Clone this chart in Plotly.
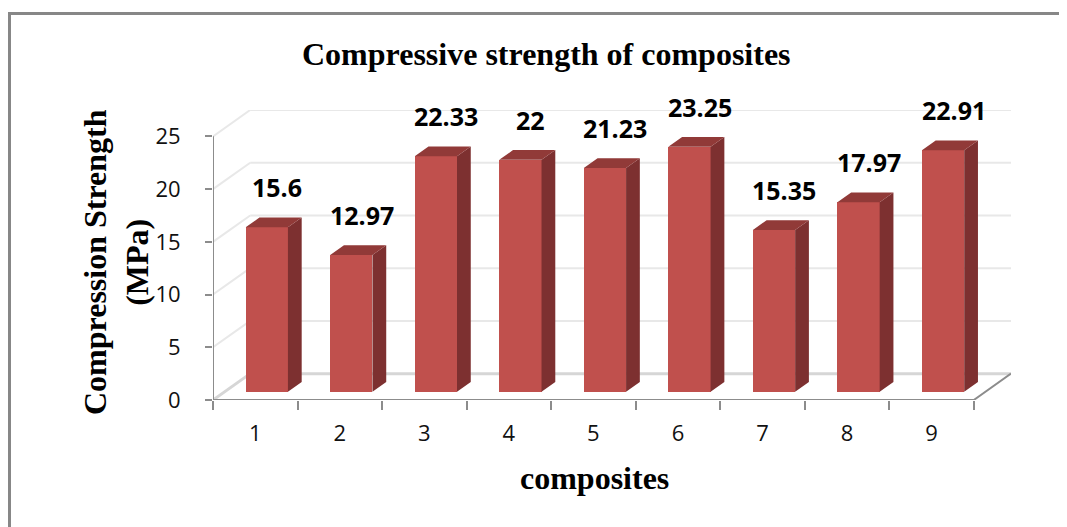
import plotly.graph_objects as go

# data
composites = [1, 2, 3, 4, 5, 6, 7, 8, 9]
strength = [15.6, 12.97, 22.33, 22, 21.23, 23.25, 15.35, 17.97, 22.91]
labels = ["15.6", "12.97", "22.33", "22", "21.23", "23.25", "15.35", "17.97", "22.91"]
y_ticks = [0, 5, 10, 15, 20, 25]

# fake 3D geometry (in axis units)
DX, DY = 0.44, 2.5        # full depth of the floor / walls
F0, DD = 0.31, 0.37       # where bars start in depth, and how deep they are
HALF = 0.25               # half bar width

OFF = 8                   # page body margin
W, H = 1067 - OFF, 527 - OFF
L, R, T, B = 213 - OFF, 56, 110 - OFF, 127
pw, ph = W - L - R, H - T - B


def px(x, y):
    # reference-screen pixel -> paper coords
    x, y = x - OFF, y - OFF
    return (x - L) / pw, (H - B - y) / ph


fig = go.Figure()

# back wall, side wall and floor, drawn below the bars
grid = dict(color="#e8e8e8", width=2)
for v in y_ticks:
    line = grid if v else dict(color="#d6d6d6", width=3)
    fig.add_shape(type="line", xref="x", yref="y", layer="below",
                  x0=0.5, y0=v, x1=0.5 + DX, y1=v + DY, line=line)
    fig.add_shape(type="line", xref="x", yref="y", layer="below",
                  x0=0.5 + DX, y0=v + DY, x1=9.5 + DX, y1=v + DY, line=line)

# front faces
xs = [c + F0 * DX for c in composites]
fig.add_trace(go.Bar(x=xs, y=strength, base=F0 * DY, width=2 * HALF,
                     marker=dict(color="#c0504d", line=dict(width=0)),
                     showlegend=False, hoverinfo="skip"))

# side and top faces
sx, sy, tx, ty = [], [], [], []
for x, v in zip(xs, strength):
    xl, xr = x - HALF, x + HALF
    b, t = F0 * DY, F0 * DY + v
    sx += [xr, xr + DD * DX, xr + DD * DX, xr, xr, None]
    sy += [b, b + DD * DY, t + DD * DY, t, b, None]
    tx += [xl, xr, xr + DD * DX, xl + DD * DX, xl, None]
    ty += [t, t, t + DD * DY, t + DD * DY, t, None]
fig.add_trace(go.Scatter(x=sx, y=sy, mode="lines", fill="toself", fillcolor="#7d3030",
                         line=dict(width=0, color="#7d3030"), hoverinfo="skip",
                         showlegend=False))
fig.add_trace(go.Scatter(x=tx, y=ty, mode="lines", fill="toself", fillcolor="#913a38",
                         line=dict(width=0, color="#913a38"), hoverinfo="skip",
                         showlegend=False))

# front axis lines
fig.add_trace(go.Scatter(x=[0.5, 0.5, None, 0.5, 9.5, 9.5 + DX],
                         y=[25, 0, None, 0, 0, DY], mode="lines",
                         line=dict(color="#8c8c8c", width=2),
                         hoverinfo="skip", showlegend=False, cliponaxis=False))

# value labels
for x, v, s in zip(composites, strength, labels):
    fig.add_annotation(x=x + 0.26, y=F0 * DY + v, text=s, showarrow=False,
                       yshift=40, xref="x", yref="y",
                       xanchor="center", yanchor="middle",
                       font=dict(family="Open Sans", size=25, color="black", weight="bold"))

# titles
title_font = dict(family="Liberation Serif", size=32, color="black")
for (cx, cy), text, ang in [((546, 54), "<b>Compressive strength of composites</b>", 0),
                            ((594, 478), "<b>composites</b>", 0),
                            ((116, 262), "<b>Compression Strength<br>(MPa)</b>", -90)]:
    ax, ay = px(cx, cy)
    fig.add_annotation(x=ax, y=ay, xref="paper", yref="paper", showarrow=False,
                       xanchor="center", yanchor="middle", textangle=ang,
                       text=text, font=title_font)

# outer frame
x0, y0 = px(9.5, 13.5)
x1, y1 = px(1090, 560)
fig.add_shape(type="rect", xref="paper", yref="paper", x0=x0, y0=y1, x1=x1, y1=y0,
              line=dict(color="#878787", width=3))

tick_font = dict(family="Open Sans", size=22, color="#111")
fig.update_layout(
    width=W, height=H,
    margin=dict(l=L, r=R, t=T, b=B),
    paper_bgcolor="white", plot_bgcolor="white",
    bargap=0,
    xaxis=dict(range=[0.5, 9.5 + DX], tickvals=composites,
               ticktext=[str(c) for c in composites],
               ticks="", showgrid=False, zeroline=False, showline=False,
               ticklabelstandoff=18, tickfont=tick_font,
               minor=dict(tick0=0.5, dtick=1, ticks="outside", ticklen=9,
                          tickwidth=2, tickcolor="#8c8c8c", showgrid=False)),
    yaxis=dict(range=[0, 25 + DY], tickvals=y_ticks, ticks="outside", ticklen=7,
               tickwidth=2, tickcolor="#8c8c8c", showgrid=False, zeroline=False,
               showline=False, ticklabelstandoff=20, tickfont=tick_font),
)

fig.write_html("out.html")
